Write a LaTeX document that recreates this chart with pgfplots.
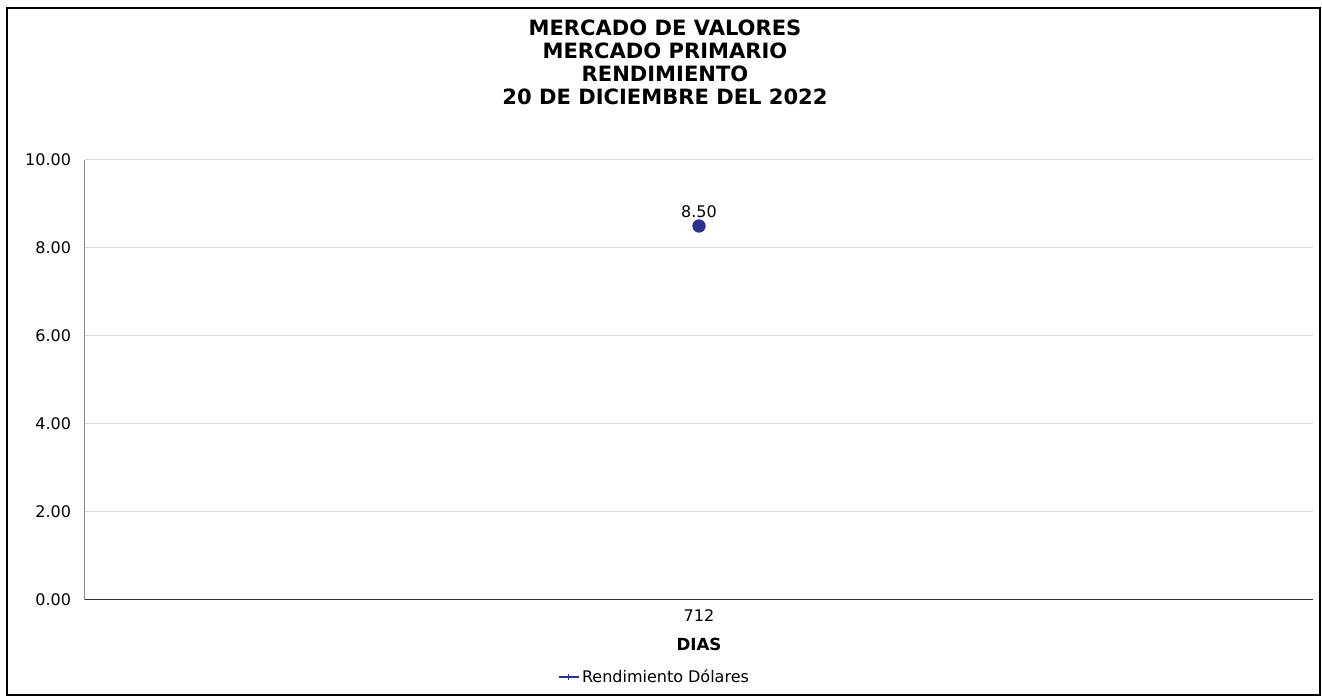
\documentclass[border=0pt]{standalone}
\usepackage{fontspec}
\setmainfont{DejaVu Sans}
\usepackage{pgfplots}
\pgfplotsset{compat=1.18}
\definecolor{navy}{HTML}{2E3192}
\definecolor{gridc}{HTML}{D9D9D9}
\definecolor{axc}{HTML}{868686}
\begin{document}
\begin{tikzpicture}
\fill[white] (0,0) rectangle (991.5pt,522pt);
\draw[black, line width=0.9pt] (5.25pt,0.75pt) rectangle (990pt,516pt);
\node[align=center, font=\fontsize{15.8}{17.25}\selectfont\bfseries] at (498.75pt,475.1pt)
  {MERCADO DE VALORES\\MERCADO PRIMARIO\\RENDIMIENTO\\20 DE DICIEMBRE DEL 2022};
\begin{axis}[
  at={(63.75pt,72pt)}, anchor=south west,
  scale only axis, width=921pt, height=330pt,
  xmin=0, xmax=2, ymin=0, ymax=10,
  xtick={1}, xticklabels={712},
  ytick={0,2,4,6,8,10},
  yticklabel style={/pgf/number format/fixed, /pgf/number format/fixed zerofill, /pgf/number format/precision=2, /pgf/number format/assume math mode=true},
  ticklabel style={font=\fontsize{12}{14}\selectfont},
  yticklabel style={xshift=-7pt},
  xticklabel style={yshift=-4pt},
  major tick length=0pt,
  ymajorgrids, grid style={gridc, line width=0.75pt},
  axis x line*=bottom, axis y line*=left,
  x axis line style={black!80, line width=0.75pt, -},
  y axis line style={axc, line width=0.75pt, -},
  xlabel={\bfseries DIAS},
  xlabel style={font=\fontsize{12.5}{14}\selectfont, yshift=-5pt},
  legend style={at={(0.464,-0.175)}, anchor=center, draw=none, fill=none,
    font=\fontsize{12}{13}\selectfont},
  legend cell align=left,
  clip=false,
]
\addplot[navy, line width=1pt, mark=*, mark size=4.5pt, mark options={fill=navy, draw=navy},
  nodes near coords, point meta=explicit symbolic,
  every node near coord/.style={font=\fontsize{12}{14}\selectfont, black, yshift=2pt},
  legend image code/.code={
    \draw[navy, line width=1pt] (0pt,0pt) -- (15pt,0pt);
    \draw[navy, line width=1pt] (7.5pt,-2pt) -- (7.5pt,2pt);
  }]
  coordinates {(1,8.5) [8.50]};
\addlegendentry{Rendimiento Dólares}
\end{axis}
\end{tikzpicture}
\end{document}
